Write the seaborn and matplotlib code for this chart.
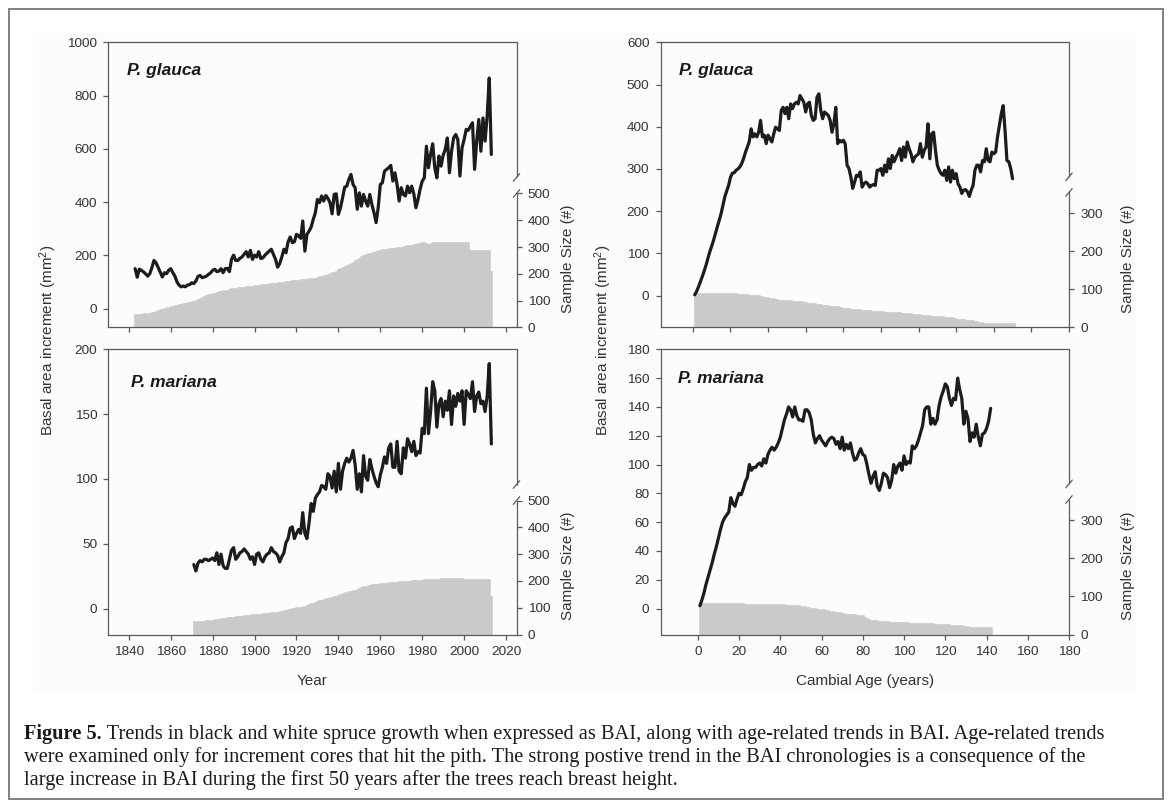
import matplotlib
matplotlib.use("Agg")
import matplotlib.pyplot as plt
from matplotlib.patches import Rectangle
import seaborn as sns

# ---------------- data ----------------
glauca_years = list(range(1843, 2014))
glauca_bai_year = [
    150, 118, 148, 144, 138, 131, 122,
    131, 154, 181, 172, 154, 135, 119, 135, 131, 144,
    150, 135, 122, 100, 88, 82, 85, 82, 89, 90,
    97, 94, 104, 121, 125, 116, 119, 122, 129, 134,
    144, 148, 139, 141, 150, 135, 150, 151, 139, 185,
    201, 181, 181, 189, 194, 204, 214, 194, 219, 185,
    201, 194, 214, 188, 191, 201, 209, 216, 223, 204,
    185, 156, 169, 194, 223, 210, 251, 269, 248, 251,
    279, 273, 264, 329, 216, 279, 291, 306, 335, 360,
    410, 398, 423, 404, 425, 414, 398, 356, 429, 431,
    354, 379, 416, 456, 460, 485, 504, 466, 454, 373,
    435, 385, 429, 404, 385, 429, 391, 360, 323, 379,
    466, 473, 516, 523, 529, 538, 479, 510, 466, 404,
    454, 429, 423, 460, 435, 460, 431, 379, 410, 448,
    479, 491, 610, 529, 579, 619, 529, 491, 573, 535,
    576, 598, 641, 510, 591, 641, 654, 635, 498, 604,
    635, 673, 670, 685, 698, 523, 629, 710, 591, 716,
    629, 723, 866, 579]
glauca_n_year = [
    50, 50, 50, 50, 52, 52, 52,
    55, 56, 58, 62, 65, 67, 70, 72, 75, 77,
    79, 81, 83, 85, 86, 88, 89, 91, 93, 95,
    97, 100, 103, 106, 110, 113, 117, 120, 123, 126,
    128, 130, 132, 134, 136, 138, 140, 141, 143, 145,
    146, 148, 149, 150, 151, 152, 153, 154, 155, 156,
    157, 158, 159, 160, 161, 162, 163, 164, 165, 166,
    167, 168, 169, 170, 171, 172, 173, 174, 175, 176,
    177, 178, 179, 180, 181, 182, 183, 184, 185, 186,
    188, 190, 192, 194, 196, 199, 202, 205, 208, 212,
    216, 220, 224, 228, 232, 236, 240, 245, 250, 255,
    260, 265, 270, 273, 276, 279, 281, 283, 285, 287,
    289, 291, 292, 294, 295, 296, 297, 298, 299, 300,
    301, 302, 304, 306, 308, 309, 310, 312, 314, 316,
    318, 319, 315, 313, 316, 317, 318, 319, 320, 320,
    320, 320, 320, 320, 320, 320, 320, 320, 320, 320,
    320, 320, 320, 288, 288, 288, 288, 288, 288, 288,
    288, 288, 288, 211]

mariana_years = list(range(1871, 2014))
mariana_bai_year = [
    34, 29, 35, 37, 36, 38, 38, 37, 38,
    39, 37, 43, 34, 42, 33, 31, 31, 38, 45,
    47, 38, 40, 43, 44, 46, 44, 42, 38, 40,
    34, 42, 43, 38, 36, 40, 42, 43, 47, 44,
    43, 41, 36, 40, 43, 51, 54, 62, 63, 54,
    58, 61, 58, 74, 58, 54, 66, 81, 75, 85,
    88, 90, 95, 94, 92, 104, 102, 93, 106, 90,
    112, 92, 106, 112, 116, 113, 116, 122, 111, 92,
    104, 90, 118, 102, 99, 115, 108, 102, 97, 94,
    103, 109, 117, 112, 124, 127, 109, 109, 129, 106,
    104, 124, 116, 131, 127, 121, 129, 118, 121, 120,
    139, 135, 170, 135, 152, 175, 168, 140, 158, 162,
    148, 160, 153, 168, 142, 164, 156, 166, 160, 168,
    142, 168, 165, 162, 175, 152, 164, 167, 158, 160,
    152, 164, 189, 127]
mariana_n_year = [
    50, 50, 51, 51, 52, 52, 53, 54, 55,
    56, 57, 58, 59, 60, 61, 62, 64, 65, 66,
    67, 68, 69, 70, 70, 71, 72, 73, 74, 75,
    76, 77, 78, 78, 79, 80, 81, 82, 83, 84,
    84, 85, 86, 88, 90, 92, 94, 96, 98, 100,
    101, 102, 103, 105, 107, 110, 113, 116, 119, 122,
    125, 128, 130, 133, 135, 137, 139, 141, 143, 145,
    148, 151, 154, 157, 160, 162, 164, 166, 168, 171,
    174, 177, 180, 182, 184, 186, 187, 188, 189, 190,
    191, 192, 193, 194, 195, 196, 196, 197, 197, 198,
    198, 199, 199, 200, 201, 202, 203, 203, 204, 205,
    205, 206, 206, 207, 207, 208, 208, 209, 209, 210,
    210, 210, 210, 210, 210, 210, 210, 210, 210, 210,
    209, 209, 208, 208, 208, 207, 207, 207, 207, 207,
    207, 207, 206, 145]

glauca_ages = list(range(1, 171))
glauca_bai_age = [
    2, 10, 21, 33, 45, 58, 72, 88, 104, 117,
    131, 147, 163, 178, 194, 214, 234, 248, 261, 280,
    290, 291, 297, 300, 305, 313, 325, 340, 352, 365,
    395, 376, 383, 376, 387, 415, 376, 380, 360, 380,
    372, 364, 383, 399, 395, 391, 439, 446, 431, 446,
    419, 454, 443, 454, 458, 454, 474, 466, 458, 435,
    454, 458, 427, 415, 419, 470, 478, 439, 419, 435,
    431, 427, 415, 387, 407, 446, 360, 368, 364, 368,
    360, 309, 301, 281, 254, 269, 285, 283, 293, 257,
    265, 269, 265, 257, 261, 263, 261, 297, 297, 301,
    285, 309, 293, 324, 301, 332, 317, 328, 336, 348,
    320, 352, 328, 364, 348, 336, 317, 328, 332, 336,
    360, 328, 344, 352, 407, 324, 383, 387, 344, 309,
    297, 289, 285, 297, 273, 305, 269, 297, 277, 289,
    265, 257, 242, 250, 251, 246, 235, 250, 261, 297,
    309, 309, 293, 320, 317, 348, 320, 317, 340, 336,
    340, 376, 403, 431, 450, 391, 320, 317, 301, 277]
glauca_n_ages = list(range(1, 172))
glauca_n_age = [
    91, 91, 91, 91, 91, 91, 91, 91, 91, 91,
    91, 91, 91, 91, 91, 90, 90, 90, 90, 90,
    90, 90, 90, 88, 88, 88, 87, 87, 87, 86,
    86, 86, 85, 85, 85, 83, 82, 81, 80, 79,
    78, 77, 76, 75, 74, 73, 72, 72, 71, 71,
    71, 71, 70, 70, 70, 69, 69, 68, 67, 66,
    65, 64, 63, 63, 63, 62, 62, 61, 60, 59,
    58, 58, 57, 57, 56, 56, 55, 54, 53, 52,
    51, 50, 50, 49, 49, 48, 48, 47, 47, 46,
    46, 45, 45, 45, 44, 44, 44, 43, 43, 42,
    42, 41, 41, 41, 40, 40, 40, 39, 39, 39,
    38, 38, 38, 38, 37, 37, 36, 36, 35, 35,
    34, 33, 33, 32, 32, 32, 31, 31, 30, 30,
    30, 29, 29, 28, 28, 27, 27, 26, 25, 24,
    23, 22, 21, 21, 20, 20, 19, 19, 18, 17,
    16, 15, 14, 13, 12, 12, 11, 11, 11, 11,
    11, 11, 11, 11, 11, 11, 11, 11, 11, 11, 11]

mariana_ages = list(range(1, 143))
mariana_bai_age = [
    2, 6, 11, 17, 22, 27, 32, 38, 43, 49,
    55, 60, 63, 65, 67, 77, 73, 71, 76, 80,
    79, 83, 88, 91, 100, 96, 98, 98, 100, 101,
    99, 104, 101, 107, 110, 112, 110, 112, 115, 119,
    125, 131, 135, 140, 138, 133, 140, 134, 131, 131,
    130, 138, 138, 136, 131, 121, 115, 118, 120, 117,
    115, 113, 116, 118, 119, 118, 114, 116, 111, 119,
    110, 114, 111, 115, 108, 103, 104, 108, 111, 107,
    106, 100, 93, 87, 92, 95, 85, 82, 87, 94,
    93, 91, 84, 89, 100, 94, 99, 101, 96, 106,
    100, 102, 101, 113, 111, 113, 117, 122, 127, 138,
    140, 140, 128, 132, 128, 131, 141, 147, 151, 156,
    154, 146, 141, 146, 145, 160, 152, 146, 128, 137,
    132, 116, 122, 119, 128, 119, 113, 121, 122, 125,
    130, 139]
mariana_n_age = [
    83, 83, 83, 83, 83, 83, 83, 83, 83, 83,
    83, 83, 83, 83, 83, 83, 83, 83, 83, 83,
    83, 83, 80, 80, 80, 80, 80, 80, 80, 80,
    80, 80, 80, 80, 79, 79, 79, 79, 79, 79,
    79, 79, 78, 78, 78, 78, 77, 77, 77, 76,
    75, 74, 73, 72, 71, 70, 69, 68, 67, 66,
    66, 65, 64, 63, 62, 61, 60, 59, 58, 57,
    56, 55, 54, 54, 53, 53, 52, 51, 50, 50,
    47, 44, 41, 39, 38, 37, 37, 36, 36, 35,
    35, 35, 34, 34, 34, 33, 33, 33, 32, 32,
    32, 32, 31, 31, 31, 31, 30, 30, 30, 30,
    30, 29, 29, 29, 28, 28, 28, 27, 27, 27,
    27, 27, 26, 26, 26, 26, 25, 25, 22, 22,
    22, 21, 21, 21, 21, 21, 20, 20, 20, 20,
    20, 19]

year_ticks = [1840, 1860, 1880, 1900, 1920, 1940, 1960, 1980, 2000, 2020]
age_ticks_top = [0, 20, 40, 60, 80, 100, 120, 140, 160, 180, 200]
age_ticks_bottom = [0, 20, 40, 60, 80, 100, 120, 140, 160, 180]
bai_ticks_tl = [0, 200, 400, 600, 800, 1000]
bai_ticks_tr = [0, 100, 200, 300, 400, 500, 600]
bai_ticks_bl = [0, 50, 100, 150, 200]
bai_ticks_br = [0, 20, 40, 60, 80, 100, 120, 140, 160, 180]
n_ticks_left = [0, 100, 200, 300, 400, 500]
n_ticks_right = [0, 100, 200, 300]

caption_lines = [
    ("Figure 5.", " Trends in black and white spruce growth when expressed as BAI, along with age-related trends in BAI. Age-related trends"),
    ("", "were examined only for increment cores that hit the pith. The strong postive trend in the BAI chronologies is a consequence of the"),
    ("", "large increase in BAI during the first 50 years after the trees reach breast height."),
]

# ---------------- style ----------------
sns.set_theme(style="white")
plt.rcParams['font.family'] = ['Liberation Sans', 'DejaVu Sans']
plt.rcParams['mathtext.default'] = 'regular'

W, H = 1171, 807
fig = plt.figure(figsize=(W / 100, H / 100), dpi=100)
fig.patch.set_facecolor('white')

SPC = '#5a5a5a'
TXT = '#333333'
BARC = '#c9c9c9'
LINEC = '#1c1c1c'

# subtle grey image area and outer frame
fig.patches.append(Rectangle((33 / W, 1 - 690 / H), (1137 - 33) / W, (690 - 33) / H,
                             transform=fig.transFigure, facecolor='#fcfcfc',
                             edgecolor='none', zorder=-10))
fig.patches.append(Rectangle((9 / W, 1 - 799 / H), (1163 - 9) / W, (799 - 9) / H,
                             transform=fig.transFigure, facecolor='none',
                             edgecolor='#7f7f7f', linewidth=1.4, zorder=-5))


def add_axes_px(l, t, r, b):
    return fig.add_axes([l / W, 1 - b / H, (r - l) / W, (b - t) / H])


def panel(box, lx, ly, bx, by, xlim, xticks, ylim, yticks, nylim, nticks,
          nbound, brk_lo, brk_hi, name, name_xy, show_xlabels):
    ax = add_axes_px(*box)
    ax2 = ax.twinx()
    ax.set_zorder(ax2.get_zorder() + 1)
    ax.patch.set_visible(False)
    ax2.patch.set_visible(False)

    sns.barplot(x=bx, y=by, native_scale=True, width=1, color=BARC,
                saturation=1, edgecolor=BARC, linewidth=0.4, errorbar=None, ax=ax2)
    sns.lineplot(x=lx, y=ly, color=LINEC, linewidth=2.3, ax=ax)

    ax.set_xlim(*xlim)
    ax.set_xticks(xticks)
    ax.set_ylim(*ylim)
    ax.set_yticks(yticks)
    ax2.set_ylim(*nylim)
    ax2.set_yticks(nticks)
    ax.set_xlabel('')
    ax.set_ylabel('')
    ax2.set_ylabel('')
    ax2.set_xlabel('')

    for s in ['left', 'top', 'bottom']:
        ax.spines[s].set_visible(True)
        ax.spines[s].set_color(SPC)
        ax.spines[s].set_linewidth(0.9)
        ax2.spines[s].set_visible(False)
    ax.spines['right'].set_visible(False)
    ax2.spines['right'].set_visible(True)
    ax2.spines['right'].set_color(SPC)
    ax2.spines['right'].set_linewidth(0.9)
    ax2.spines['right'].set_bounds(0, nbound)

    ax.tick_params(axis='both', which='major', direction='out', length=3.5, width=0.9,
                   color=SPC, labelsize=9.7, labelcolor=TXT, pad=4.5,
                   left=True, bottom=True, top=False, right=False,
                   labelbottom=show_xlabels)
    ax2.tick_params(axis='y', which='major', direction='out', length=3.5, width=0.9,
                    color=SPC, labelsize=9.7, labelcolor=TXT, pad=4.5,
                    right=True, left=False)

    # broken right axis
    ax2.plot([1, 1], [brk_hi, 1], transform=ax2.transAxes, clip_on=False,
             color=SPC, lw=0.9, solid_capstyle='butt')
    dx = 3.2 / (box[2] - box[0])
    dy = 3.8 / (box[3] - box[1])
    for yb in (brk_lo, brk_hi):
        ax2.plot([1 - dx, 1 + dx], [yb - dy, yb + dy], transform=ax2.transAxes,
                 clip_on=False, color=SPC, lw=0.9)

    ax.text(name_xy[0], name_xy[1], name, transform=ax.transAxes, fontsize=12.5,
            fontweight='bold', fontstyle='italic', color='#1a1a1a',
            ha='left', va='center')
    return ax, ax2


TOP = (42.3, 327.3)
BOT = (349.3, 634.5)
LEFT = (108.3, 516.5)
RIGHT = (660.5, 1069.0)

panel((LEFT[0], TOP[0], LEFT[1], TOP[1]), glauca_years, glauca_bai_year,
      glauca_years, glauca_n_year, (1830.2, 2025), year_ticks, (-70, 1000),
      bai_ticks_tl, (0, 1065), n_ticks_left, 500, 500 / 1065, 560 / 1065,
      'P. glauca', (0.046, 0.900), False)
panel((LEFT[0], BOT[0], LEFT[1], BOT[1]), mariana_years, mariana_bai_year,
      mariana_years, mariana_n_year, (1830.2, 2025), year_ticks, (-20, 200),
      bai_ticks_bl, (0, 1065), n_ticks_left, 500, 500 / 1065, 560 / 1065,
      'P. mariana', (0.056, 0.882), True)
panel((RIGHT[0], TOP[0], RIGHT[1], TOP[1]), glauca_ages, glauca_bai_age,
      glauca_n_ages, glauca_n_age, (-17.2, 200), age_ticks_top, (-75, 600),
      bai_ticks_tr, (0, 750), n_ticks_right, 355, 355 / 750, 396 / 750,
      'P. glauca', (0.046, 0.900), False)
panel((RIGHT[0], BOT[0], RIGHT[1], BOT[1]), mariana_ages, mariana_bai_age,
      mariana_ages, mariana_n_age, (-18.1, 180), age_ticks_bottom, (-18, 180),
      bai_ticks_br, (0, 750), n_ticks_right, 355, 355 / 750, 396 / 750,
      'P. mariana', (0.043, 0.896), True)


def ftext(x, y, s, **kw):
    return fig.text(x / W, 1 - y / H, s, **kw)


lab = dict(fontsize=11, color=TXT, ha='center', va='center')
ftext(48, 340, 'Basal area increment (mm$^2$)', rotation=90, **lab)
ftext(603, 340, 'Basal area increment (mm$^2$)', rotation=90, **lab)
ftext(568, 259, 'Sample Size (#)', rotation=90, **lab)
ftext(568, 566, 'Sample Size (#)', rotation=90, **lab)
ftext(1128, 259, 'Sample Size (#)', rotation=90, **lab)
ftext(1128, 566, 'Sample Size (#)', rotation=90, **lab)
ftext((LEFT[0] + LEFT[1]) / 2, 681, 'Year', **lab)
ftext((RIGHT[0] + RIGHT[1]) / 2, 681, 'Cambial Age (years)', **lab)

# caption
cap_family = ['Liberation Serif', 'DejaVu Serif']
x0 = 24
target_w = 1108 - x0
line_y = [734, 757, 780]
renderer = fig.canvas.get_renderer()


def build_caption(fs):
    objs = []
    for (bold, rest), y in zip(caption_lines, line_y):
        xs = x0
        if bold:
            tb = ftext(xs, y, bold, fontsize=fs, fontweight='bold', family=cap_family,
                       color='#1a1a1a', ha='left', va='center')
            objs.append(tb)
            xs = tb.get_window_extent(renderer).x1
        tr = ftext(xs, y, rest, fontsize=fs, family=cap_family, color='#1a1a1a',
                   ha='left', va='center')
        objs.append(tr)
    return objs


fs = 13.5
objs = build_caption(fs)
width = objs[1].get_window_extent(renderer).x1 - x0
for o in objs:
    o.remove()
fs = fs * target_w / width
build_caption(fs)

fig.savefig('out.png', dpi=100, facecolor='white')
